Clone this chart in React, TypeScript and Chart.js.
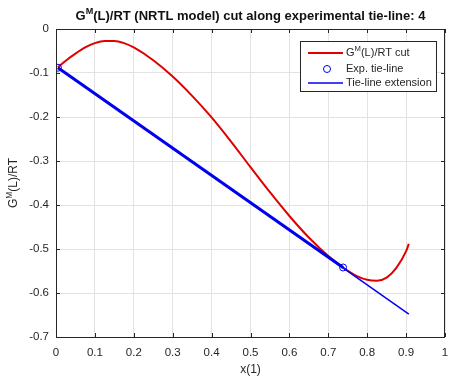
import React, { useEffect, useRef } from "react";
import { Chart, registerables } from "chart.js";

Chart.register(...registerables);

// ---- data ----
const curveX = [0.005, 0.025, 0.05, 0.075, 0.1, 0.125, 0.15, 0.175, 0.2, 0.25, 0.3, 0.35, 0.4, 0.45, 0.5, 0.55, 0.6, 0.65, 0.7, 0.738, 0.775, 0.8, 0.825, 0.85, 0.875, 0.9, 0.907];
const curveY = [-0.087, -0.072, -0.056, -0.042, -0.032, -0.027, -0.027, -0.032, -0.042, -0.071, -0.108, -0.152, -0.201, -0.256, -0.314, -0.371, -0.425, -0.474, -0.516, -0.542, -0.562, -0.57, -0.572, -0.565, -0.543, -0.505, -0.488];
const tieX = [0.005, 0.738];
const tieY = [-0.088, -0.542];
const extX = [0.005, 0.907];
const extY = [-0.088, -0.648];
const xTickLabels = ["0", "0.1", "0.2", "0.3", "0.4", "0.5", "0.6", "0.7", "0.8", "0.9", "1"];
const yTickLabels = ["-0.7", "-0.6", "-0.5", "-0.4", "-0.3", "-0.2", "-0.1", "0"];
const titleParts = ["G", "M", "(L)/RT (NRTL model) cut along experimental tie-line: 4"];
const yLabelParts = ["G", "M", "(L)/RT"];
const legendLabels = ["cut", "Exp. tie-line", "Tie-line extension"];
const xLabel = "x(1)";

const FONT = "'Liberation Sans', Arial, Helvetica, sans-serif";
const RED = "#e00000";
const BLUE = "#0000f0";
const AXIS = "#262626";

function pts(xs: number[], ys: number[]) {
  return xs.map((x, i) => ({ x, y: ys[i] }));
}

function drawSupText(ctx: CanvasRenderingContext2D, parts: string[], size: number, bold: boolean, cx: number, cy: number) {
  const w = bold ? "bold " : "";
  const big = `${w}${size}px ${FONT}`;
  const small = `${w}${size * 0.7}px ${FONT}`;
  ctx.font = big;
  const w0 = ctx.measureText(parts[0]).width;
  const w2 = ctx.measureText(parts[2]).width;
  ctx.font = small;
  const w1 = ctx.measureText(parts[1]).width;
  const total = w0 + w1 + w2;
  let x = cx - total / 2;
  ctx.textBaseline = "middle";
  ctx.textAlign = "left";
  ctx.font = big;
  ctx.fillText(parts[0], x, cy);
  x += w0;
  ctx.font = small;
  ctx.fillText(parts[1], x, cy - size * 0.38);
  x += w1;
  ctx.font = big;
  ctx.fillText(parts[2], x, cy);
}

const decorPlugin = {
  id: "decor",
  afterDraw(chart: any) {
    const ctx: CanvasRenderingContext2D = chart.ctx;
    const { left, right, top, bottom } = chart.chartArea;
    const xs = chart.scales.x;
    const ys = chart.scales.y;
    ctx.save();
    ctx.strokeStyle = AXIS;
    ctx.lineWidth = 1;
    ctx.strokeRect(Math.round(left) + 0.5, Math.round(top) + 0.5, Math.round(right - left) - 1, Math.round(bottom - top));
    const tl = 4;
    ctx.beginPath();
    for (let i = 0; i < xTickLabels.length; i++) {
      const px = Math.round(xs.getPixelForValue(i / 10)) + 0.5;
      ctx.moveTo(px, bottom);
      ctx.lineTo(px, bottom - tl);
      ctx.moveTo(px, top);
      ctx.lineTo(px, top + tl);
    }
    for (let i = 0; i < yTickLabels.length; i++) {
      const py = Math.round(ys.getPixelForValue(-0.7 + i / 10)) + 0.5;
      ctx.moveTo(left, py);
      ctx.lineTo(left + tl, py);
      ctx.moveTo(right, py);
      ctx.lineTo(right - tl, py);
    }
    ctx.stroke();

    ctx.fillStyle = "#111";
    drawSupText(ctx, titleParts, 13, true, (left + right) / 2, 16);
    ctx.font = `12px ${FONT}`;
    ctx.fillStyle = AXIS;
    ctx.textAlign = "center";
    ctx.textBaseline = "middle";
    ctx.fillText(xLabel, (left + right) / 2, 370);
    ctx.save();
    ctx.translate(14, (top + bottom) / 2);
    ctx.rotate(-Math.PI / 2);
    ctx.fillStyle = AXIS;
    drawSupText(ctx, yLabelParts, 12, false, 0, 0);
    ctx.restore();

    const lx = 300.5, ly = 41.5, lw = 136, lh = 50;
    ctx.fillStyle = "#fff";
    ctx.fillRect(lx, ly, lw, lh);
    ctx.strokeStyle = AXIS;
    ctx.lineWidth = 1;
    ctx.strokeRect(lx, ly, lw, lh);
    const rows = [53, 69, 83];
    ctx.strokeStyle = RED;
    ctx.lineWidth = 2;
    ctx.beginPath();
    ctx.moveTo(308, rows[0]);
    ctx.lineTo(343, rows[0]);
    ctx.stroke();
    ctx.strokeStyle = BLUE;
    ctx.lineWidth = 1;
    ctx.beginPath();
    ctx.arc(327, rows[1], 3.5, 0, Math.PI * 2);
    ctx.stroke();
    ctx.lineWidth = 1.5;
    ctx.beginPath();
    ctx.moveTo(308, rows[2]);
    ctx.lineTo(343, rows[2]);
    ctx.stroke();
    ctx.fillStyle = AXIS;
    ctx.textAlign = "left";
    ctx.textBaseline = "middle";
    const fs = 11;
    ctx.font = `${fs}px ${FONT}`;
    let tx = 346;
    ctx.fillText("G", tx, rows[0]);
    tx += ctx.measureText("G").width;
    ctx.font = `${fs * 0.7}px ${FONT}`;
    ctx.fillText("M", tx, rows[0] - fs * 0.38);
    tx += ctx.measureText("M").width;
    ctx.font = `${fs}px ${FONT}`;
    ctx.fillText("(L)/RT " + legendLabels[0], tx, rows[0]);
    ctx.fillText(legendLabels[1], 346, rows[1]);
    ctx.fillText(legendLabels[2], 346, rows[2]);
    ctx.restore();
  },
};

export default function App() {
  const ref = useRef<HTMLCanvasElement | null>(null);
  useEffect(() => {
    if (!ref.current) return;
    const chart = new Chart(ref.current, {
      type: "scatter",
      data: {
        datasets: [
          {
            label: "Exp. tie-line",
            data: pts(tieX, tieY),
            showLine: false,
            pointRadius: 3.5,
            pointBorderWidth: 1,
            pointBorderColor: BLUE,
            pointBackgroundColor: "rgba(0,0,0,0)",
            order: 0,
          },
          {
            label: "tie",
            data: pts(tieX, tieY),
            showLine: true,
            borderColor: BLUE,
            borderWidth: 3,
            pointRadius: 0,
            order: 1,
          },
          {
            label: "Tie-line extension",
            data: pts(extX, extY),
            showLine: true,
            borderColor: BLUE,
            borderWidth: 1.5,
            pointRadius: 0,
            order: 2,
          },
          {
            label: "GM(L)/RT cut",
            data: pts(curveX, curveY),
            showLine: true,
            borderColor: RED,
            borderWidth: 2,
            pointRadius: 0,
            cubicInterpolationMode: "monotone",
            order: 3,
          },
        ],
      },
      options: {
        animation: false,
        responsive: false,
        devicePixelRatio: 1,
        layout: { padding: { top: 29, right: 1, left: 0, bottom: 0 } },
        plugins: { legend: { display: false }, title: { display: false }, tooltip: { enabled: false } },
        scales: {
          x: {
            type: "linear",
            min: 0,
            max: 1,
            border: { display: false },
            grid: { color: "#e3e3e3", lineWidth: 1, drawTicks: false },
            ticks: {
              stepSize: 0.1,
              padding: 9,
              maxRotation: 0,
              autoSkip: false,
              color: AXIS,
              font: { family: FONT, size: 11.5 },
              callback: (_v: any, i: number) => xTickLabels[i],
            },
            afterFit: (s: any) => {
              s.height = 40;
              s.paddingLeft = 0;
              s.paddingRight = 0;
            },
          },
          y: {
            type: "linear",
            min: -0.7,
            max: 0,
            border: { display: false },
            grid: { color: "#e3e3e3", lineWidth: 1, drawTicks: false },
            ticks: {
              stepSize: 0.1,
              padding: 7,
              autoSkip: false,
              color: AXIS,
              font: { family: FONT, size: 11.5 },
              callback: (_v: any, i: number) => yTickLabels[i],
            },
            afterFit: (s: any) => {
              s.width = 56;
              s.paddingTop = 0;
              s.paddingBottom = 0;
            },
          },
        },
      } as any,
      plugins: [decorPlugin],
    });
    return () => chart.destroy();
  }, []);
  return (
    <div style={{ position: "absolute", left: 0, top: 0, width: 450, height: 377, background: "#fff" }}>
      <canvas ref={ref} width={450} height={377} style={{ display: "block" }} />
    </div>
  );
}
